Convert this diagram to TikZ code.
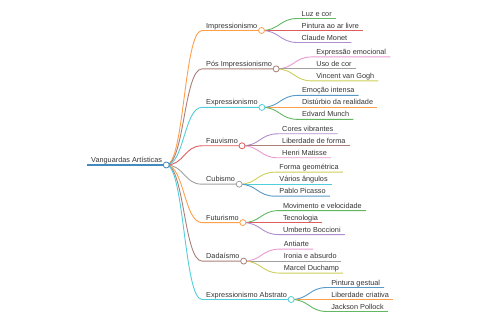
\documentclass[tikz,border=0pt]{standalone}
\usepackage{fontspec}
\setmainfont{Liberation Sans}
\usetikzlibrary{positioning}
\definecolor{mmblue}{HTML}{1F77B4}
\definecolor{mmorange}{HTML}{FF7F0E}
\definecolor{mmgreen}{HTML}{2CA02C}
\definecolor{mmred}{HTML}{D62728}
\definecolor{mmpurple}{HTML}{9467BD}
\definecolor{mmbrown}{HTML}{8C564B}
\definecolor{mmpink}{HTML}{E377C2}
\definecolor{mmgray}{HTML}{7F7F7F}
\definecolor{mmolive}{HTML}{BCBD22}
\definecolor{mmcyan}{HTML}{17BECF}
\tikzset{
  topic/.style ={anchor=south west, inner xsep=4pt, inner ysep=0.6pt,
                 text depth=1.6pt, font=\fontsize{7.3}{8}\selectfont,
                 text=black!80},
  knot/.style  ={circle, draw, fill=white, inner sep=0pt,
                 minimum size=6pt, line width=0.8pt},
  link/.style  ={line width=0.9pt},
  trunk/.style ={line width=1.4pt, mmblue!85},
}
\begin{document}
\begin{tikzpicture}[x=1pt, y=-1pt]
  \useasboundingbox (0,0) rectangle (480,320);
  % root and main topics
  \node[topic] (root) at (87,165) {Vanguardas Artísticas};
  \node[topic] (imp) at (202,30.5) {Impressionismo};
  \node[topic] (pos) at (202,68.9) {Pós Impressionismo};
  \node[topic] (expr) at (202,107.4) {Expressionismo};
  \node[topic] (fauv) at (202,145.8) {Fauvismo};
  \node[topic] (cub) at (202,184.2) {Cubismo};
  \node[topic] (fut) at (202,222.6) {Futurismo};
  \node[topic] (dada) at (202,261.1) {Dadaísmo};
  \node[topic] (abst) at (202,299.5) {Expressionismo Abstrato};
  % leaves
  \node[topic] (imp1) at ([xshift=36pt,yshift=12pt]imp.south east) {Luz e cor};
  \node[topic] (imp2) at ([xshift=36pt]imp.south east) {Pintura ao ar livre};
  \node[topic] (imp3) at ([xshift=36pt,yshift=-12pt]imp.south east) {Claude Monet};
  \node[topic] (pos1) at ([xshift=36pt,yshift=12pt]pos.south east) {Expressão emocional};
  \node[topic] (pos2) at ([xshift=36pt]pos.south east) {Uso de cor};
  \node[topic] (pos3) at ([xshift=36pt,yshift=-12pt]pos.south east) {Vincent van Gogh};
  \node[topic] (expr1) at ([xshift=36pt,yshift=12pt]expr.south east) {Emoção intensa};
  \node[topic] (expr2) at ([xshift=36pt]expr.south east) {Distúrbio da realidade};
  \node[topic] (expr3) at ([xshift=36pt,yshift=-12pt]expr.south east) {Edvard Munch};
  \node[topic] (fauv1) at ([xshift=36pt,yshift=12pt]fauv.south east) {Cores vibrantes};
  \node[topic] (fauv2) at ([xshift=36pt]fauv.south east) {Liberdade de forma};
  \node[topic] (fauv3) at ([xshift=36pt,yshift=-12pt]fauv.south east) {Henri Matisse};
  \node[topic] (cub1) at ([xshift=36pt,yshift=12pt]cub.south east) {Forma geométrica};
  \node[topic] (cub2) at ([xshift=36pt]cub.south east) {Vários ângulos};
  \node[topic] (cub3) at ([xshift=36pt,yshift=-12pt]cub.south east) {Pablo Picasso};
  \node[topic] (fut1) at ([xshift=36pt,yshift=12pt]fut.south east) {Movimento e velocidade};
  \node[topic] (fut2) at ([xshift=36pt]fut.south east) {Tecnologia};
  \node[topic] (fut3) at ([xshift=36pt,yshift=-12pt]fut.south east) {Umberto Boccioni};
  \node[topic] (dada1) at ([xshift=36pt,yshift=12pt]dada.south east) {Antiarte};
  \node[topic] (dada2) at ([xshift=36pt]dada.south east) {Ironia e absurdo};
  \node[topic] (dada3) at ([xshift=36pt,yshift=-12pt]dada.south east) {Marcel Duchamp};
  \node[topic] (abst1) at ([xshift=36pt,yshift=12pt]abst.south east) {Pintura gestual};
  \node[topic] (abst2) at ([xshift=36pt]abst.south east) {Liberdade criativa};
  \node[topic] (abst3) at ([xshift=36pt,yshift=-12pt]abst.south east) {Jackson Pollock};
  % branches
  \draw[trunk] (root.south west) -- (root.south east);
  \draw[link, mmorange!75] (root.south east) .. controls +(18,0) and +(-18,0) .. (imp.south west) -- (imp.south east);
  \draw[link, mmbrown!75] (root.south east) .. controls +(18,0) and +(-18,0) .. (pos.south west) -- (pos.south east);
  \draw[link, mmcyan!75] (root.south east) .. controls +(18,0) and +(-18,0) .. (expr.south west) -- (expr.south east);
  \draw[link, mmred!75] (root.south east) .. controls +(18,0) and +(-18,0) .. (fauv.south west) -- (fauv.south east);
  \draw[link, mmgray!75] (root.south east) .. controls +(18,0) and +(-18,0) .. (cub.south west) -- (cub.south east);
  \draw[link, mmorange!75] (root.south east) .. controls +(18,0) and +(-18,0) .. (fut.south west) -- (fut.south east);
  \draw[link, mmbrown!75] (root.south east) .. controls +(18,0) and +(-18,0) .. (dada.south west) -- (dada.south east);
  \draw[link, mmcyan!75] (root.south east) .. controls +(18,0) and +(-18,0) .. (abst.south west) -- (abst.south east);
  % leaf links
  \draw[link, mmgreen!75] (imp.south east) .. controls +(18,0) and +(-18,0) .. (imp1.south west) -- (imp1.south east);
  \draw[link, mmred!75] (imp.south east) .. controls +(18,0) and +(-18,0) .. (imp2.south west) -- (imp2.south east);
  \draw[link, mmpurple!75] (imp.south east) .. controls +(18,0) and +(-18,0) .. (imp3.south west) -- (imp3.south east);
  \draw[link, mmpink!75] (pos.south east) .. controls +(18,0) and +(-18,0) .. (pos1.south west) -- (pos1.south east);
  \draw[link, mmgray!75] (pos.south east) .. controls +(18,0) and +(-18,0) .. (pos2.south west) -- (pos2.south east);
  \draw[link, mmolive!75] (pos.south east) .. controls +(18,0) and +(-18,0) .. (pos3.south west) -- (pos3.south east);
  \draw[link, mmblue!75] (expr.south east) .. controls +(18,0) and +(-18,0) .. (expr1.south west) -- (expr1.south east);
  \draw[link, mmorange!75] (expr.south east) .. controls +(18,0) and +(-18,0) .. (expr2.south west) -- (expr2.south east);
  \draw[link, mmgreen!75] (expr.south east) .. controls +(18,0) and +(-18,0) .. (expr3.south west) -- (expr3.south east);
  \draw[link, mmpurple!75] (fauv.south east) .. controls +(18,0) and +(-18,0) .. (fauv1.south west) -- (fauv1.south east);
  \draw[link, mmbrown!75] (fauv.south east) .. controls +(18,0) and +(-18,0) .. (fauv2.south west) -- (fauv2.south east);
  \draw[link, mmpink!75] (fauv.south east) .. controls +(18,0) and +(-18,0) .. (fauv3.south west) -- (fauv3.south east);
  \draw[link, mmolive!75] (cub.south east) .. controls +(18,0) and +(-18,0) .. (cub1.south west) -- (cub1.south east);
  \draw[link, mmcyan!75] (cub.south east) .. controls +(18,0) and +(-18,0) .. (cub2.south west) -- (cub2.south east);
  \draw[link, mmblue!75] (cub.south east) .. controls +(18,0) and +(-18,0) .. (cub3.south west) -- (cub3.south east);
  \draw[link, mmgreen!75] (fut.south east) .. controls +(18,0) and +(-18,0) .. (fut1.south west) -- (fut1.south east);
  \draw[link, mmred!75] (fut.south east) .. controls +(18,0) and +(-18,0) .. (fut2.south west) -- (fut2.south east);
  \draw[link, mmpurple!75] (fut.south east) .. controls +(18,0) and +(-18,0) .. (fut3.south west) -- (fut3.south east);
  \draw[link, mmpink!75] (dada.south east) .. controls +(18,0) and +(-18,0) .. (dada1.south west) -- (dada1.south east);
  \draw[link, mmgray!75] (dada.south east) .. controls +(18,0) and +(-18,0) .. (dada2.south west) -- (dada2.south east);
  \draw[link, mmolive!75] (dada.south east) .. controls +(18,0) and +(-18,0) .. (dada3.south west) -- (dada3.south east);
  \draw[link, mmblue!75] (abst.south east) .. controls +(18,0) and +(-18,0) .. (abst1.south west) -- (abst1.south east);
  \draw[link, mmorange!75] (abst.south east) .. controls +(18,0) and +(-18,0) .. (abst2.south west) -- (abst2.south east);
  \draw[link, mmgreen!75] (abst.south east) .. controls +(18,0) and +(-18,0) .. (abst3.south west) -- (abst3.south east);
  % knots on top
  \node[knot, draw=mmblue!85] (rootk) at (root.south east) {};
  \node[knot, draw=mmorange!75] (impk) at (imp.south east) {};
  \node[knot, draw=mmbrown!75] (posk) at (pos.south east) {};
  \node[knot, draw=mmcyan!75] (exprk) at (expr.south east) {};
  \node[knot, draw=mmred!75] (fauvk) at (fauv.south east) {};
  \node[knot, draw=mmgray!75] (cubk) at (cub.south east) {};
  \node[knot, draw=mmorange!75] (futk) at (fut.south east) {};
  \node[knot, draw=mmbrown!75] (dadak) at (dada.south east) {};
  \node[knot, draw=mmcyan!75] (abstk) at (abst.south east) {};
\end{tikzpicture}
\end{document}
